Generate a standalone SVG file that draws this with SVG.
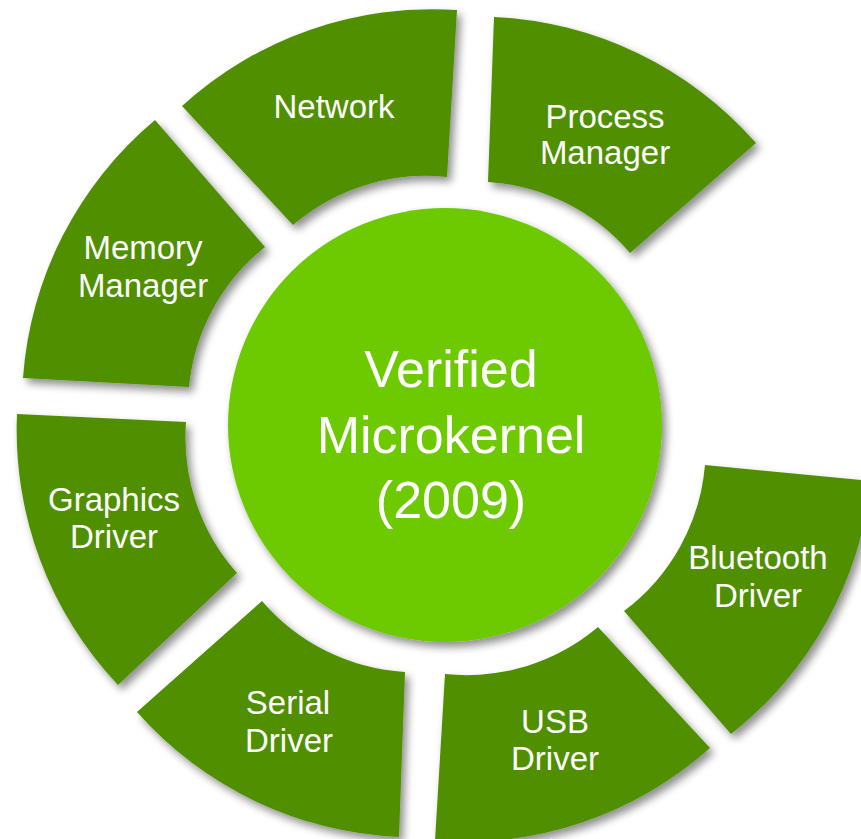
<svg xmlns="http://www.w3.org/2000/svg" width="861" height="839" viewBox="0 0 861 839">
<defs>
<filter id="sh" x="-20%" y="-20%" width="140%" height="140%">
<feGaussianBlur in="SourceAlpha" stdDeviation="4"/>
<feOffset dx="4" dy="5" result="b"/>
<feComponentTransfer><feFuncA type="linear" slope="0.45"/></feComponentTransfer>
<feMerge><feMergeNode/><feMergeNode in="SourceGraphic"/></feMerge>
</filter>
<style>
.seg{fill:#508f00;filter:url(#sh)}
.core{fill:#6dc900;filter:url(#sh)}
.lbl{font-family:"Liberation Sans",Arial,Helvetica,sans-serif;font-size:33px;fill:#ffffff;text-anchor:middle}
.big{font-family:"Liberation Sans",Arial,Helvetica,sans-serif;font-size:52px;fill:#ffffff;text-anchor:middle}
</style>
</defs>
<rect width="861" height="839" fill="#ffffff"/>
<g id="connectors"></g>
<g id="network">
<path class="seg" d="M182,106 A371,371 0 0 1 457,10 L447,177 A204,204 0 0 0 293,225 Z"/>
<text class="lbl" x="334" y="118">Network</text>
</g>
<g id="process-manager">
<path class="seg" d="M494,17 A371,371 0 0 1 756,143 L630,253 A204,204 0 0 0 488,182 Z"/>
<text class="lbl" x="605" y="128">Process</text>
<text class="lbl" x="605" y="164">Manager</text>
</g>
<g id="memory-manager">
<path class="seg" d="M23,378 A371,371 0 0 1 155,120 L265,247 A204,204 0 0 0 189,387 Z"/>
<text class="lbl" x="143" y="259">Memory</text>
<text class="lbl" x="143" y="297">Manager</text>
</g>
<g id="graphics-driver">
<path class="seg" d="M118,685 A371,371 0 0 1 17,414 L186,422 A204,204 0 0 0 237,573 Z"/>
<text class="lbl" x="114" y="511">Graphics</text>
<text class="lbl" x="114" y="548">Driver</text>
</g>
<g id="serial-driver">
<path class="seg" d="M399,837 A371,371 0 0 1 137,712 L262,601 A204,204 0 0 0 405,672 Z"/>
<text class="lbl" x="288" y="714">Serial</text>
<text class="lbl" x="289" y="752">Driver</text>
</g>
<g id="usb-driver">
<path class="seg" d="M710,748 A371,371 0 0 1 435,841 L445,674 A204,204 0 0 0 598,627 Z"/>
<text class="lbl" x="555" y="733">USB</text>
<text class="lbl" x="555" y="770">Driver</text>
</g>
<g id="bluetooth-driver">
<path class="seg" d="M871,481 A371,371 0 0 1 731,734 L624,611 A204,204 0 0 0 705,465 Z"/>
<text class="lbl" x="758" y="569">Bluetooth</text>
<text class="lbl" x="758" y="607">Driver</text>
</g>
<g id="microkernel">
<circle class="core" cx="445" cy="425" r="217"/>
<text class="big" x="451" y="387">Verified</text>
<text class="big" x="451" y="453">Microkernel</text>
<text class="big" x="451" y="518">(2009)</text>
</g>
</svg>
